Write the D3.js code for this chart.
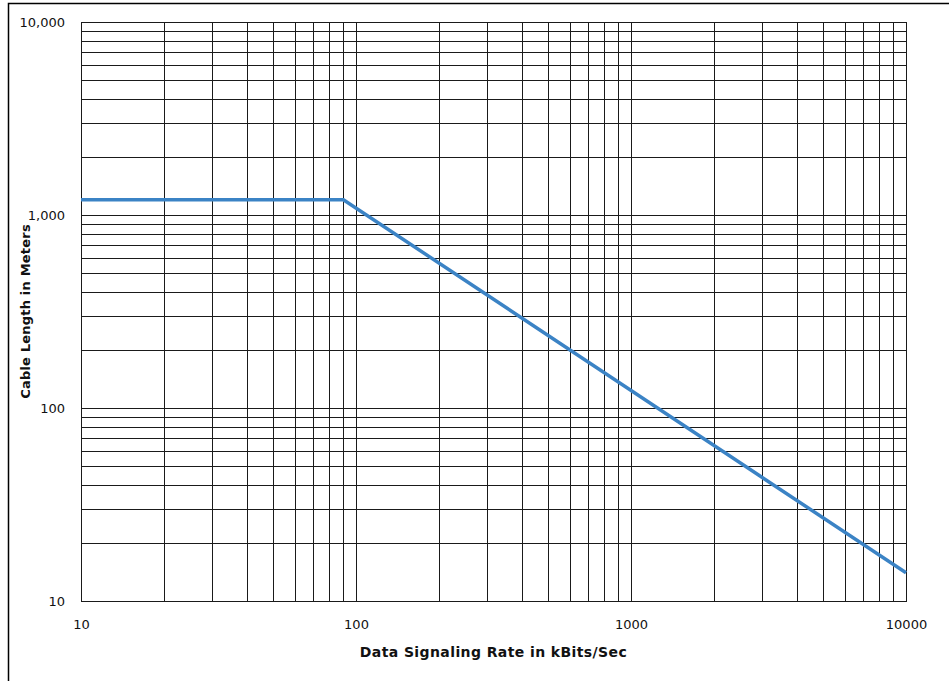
<!DOCTYPE html>
<html>
<head>
<meta charset="utf-8">
<script src="https://cdn.jsdelivr.net/npm/d3@7"></script>
<style>
  body { margin: 0; background: #fff; }
  svg { display: block; font-family: "DejaVu Sans", Verdana, sans-serif; }
</style>
</head>
<body>
<svg id="chart" width="949" height="681"></svg>
<script>
// data: cable length (m) vs data rate (kbit/s)
const rates = [10, 90, 10000]
const lengths = [1200, 1200, 14]

const xTicks = [10, 100, 1000, 10000]
const xTickLabels = ['10', '100', '1000', '10000']
const yTicks = [10, 100, 1000, 10000]
const yTickLabels = ['10', '100', '1,000', '10,000']

const size = { width: 949, height: 681 }
const plot = { left: 81, right: 906, top: 22, bottom: 601 }
const gridColor = '#1a1a1a'
const lineColor = '#3b83c5'

const svg = d3.select('#chart')

const x = d3.scaleLog().domain([10, 10000]).range([plot.left, plot.right])
const y = d3.scaleLog().domain([10, 10000]).range([plot.bottom, plot.top])

// outer frame (left and top edges only visible)
svg.append('path')
  .attr('d', 'M8.5,' + size.height + 'V3.5H' + size.width)
  .attr('fill', 'none')
  .attr('stroke', '#000')
  .attr('stroke-width', 1.5)

// minor + major gridlines, every 1..9 x 10^k
const gridVals = []
for (let p = 1; p <= 3; p++) {
  for (let m = 1; m <= 9; m++) gridVals.push(m * 10 ** p)
}
gridVals.push(10000)

const crisp = v => Math.round(v) + 0.5

svg.append('g')
  .selectAll('line')
  .data(gridVals)
  .join('line')
    .attr('x1', d => crisp(x(d)))
    .attr('x2', d => crisp(x(d)))
    .attr('y1', plot.top)
    .attr('y2', plot.bottom)
    .attr('stroke', gridColor)
    .attr('stroke-width', 1)

svg.append('g')
  .selectAll('line')
  .data(gridVals)
  .join('line')
    .attr('y1', d => crisp(y(d)))
    .attr('y2', d => crisp(y(d)))
    .attr('x1', plot.left)
    .attr('x2', plot.right)
    .attr('stroke', gridColor)
    .attr('stroke-width', 1)

// plot area border
svg.append('rect')
  .attr('x', crisp(plot.left))
  .attr('y', crisp(plot.top))
  .attr('width', Math.round(plot.right) - Math.round(plot.left))
  .attr('height', Math.round(plot.bottom) - Math.round(plot.top))
  .attr('fill', 'none')
  .attr('stroke', gridColor)
  .attr('stroke-width', 1)

// axes labels
const xAxis = svg.append('g')
  .attr('transform', 'translate(0,' + (plot.bottom + 16) + ')')
  .call(d3.axisBottom(x).tickValues(xTicks).tickFormat((d, i) => xTickLabels[i]).tickSize(0))
  .call(g => g.select('.domain').remove())
xAxis.selectAll('text')
  .attr('font-family', '"DejaVu Sans", Verdana, sans-serif')
  .attr('font-size', 13)
  .attr('fill', '#111')

const yAxis = svg.append('g')
  .attr('transform', 'translate(' + (plot.left - 13) + ',0)')
  .call(d3.axisLeft(y).tickValues(yTicks).tickFormat((d, i) => yTickLabels[i]).tickSize(0))
  .call(g => g.select('.domain').remove())
yAxis.selectAll('text')
  .attr('font-family', '"DejaVu Sans", Verdana, sans-serif')
  .attr('font-size', 13)
  .attr('fill', '#111')

// data line
svg.append('path')
  .datum(rates.map((r, i) => [r, lengths[i]]))
  .attr('d', d3.line().x(d => x(d[0])).y(d => y(d[1])))
  .attr('fill', 'none')
  .attr('stroke', lineColor)
  .attr('stroke-width', 3.5)
  .attr('stroke-linejoin', 'miter')

// titles
svg.append('text')
  .attr('x', (plot.left + plot.right) / 2)
  .attr('y', 657)
  .attr('text-anchor', 'middle')
  .attr('font-size', 14)
  .attr('letter-spacing', 0.4)
  .attr('font-weight', 'bold')
  .attr('fill', '#111')
  .text('Data Signaling Rate in kBits/Sec')

svg.append('text')
  .attr('transform', 'translate(30,' + ((plot.top + plot.bottom) / 2) + ') rotate(-90)')
  .attr('text-anchor', 'middle')
  .attr('font-size', 13)
  .attr('letter-spacing', 0.2)
  .attr('font-weight', 'bold')
  .attr('fill', '#111')
  .text('Cable Length in Meters')
</script>
</body>
</html>
